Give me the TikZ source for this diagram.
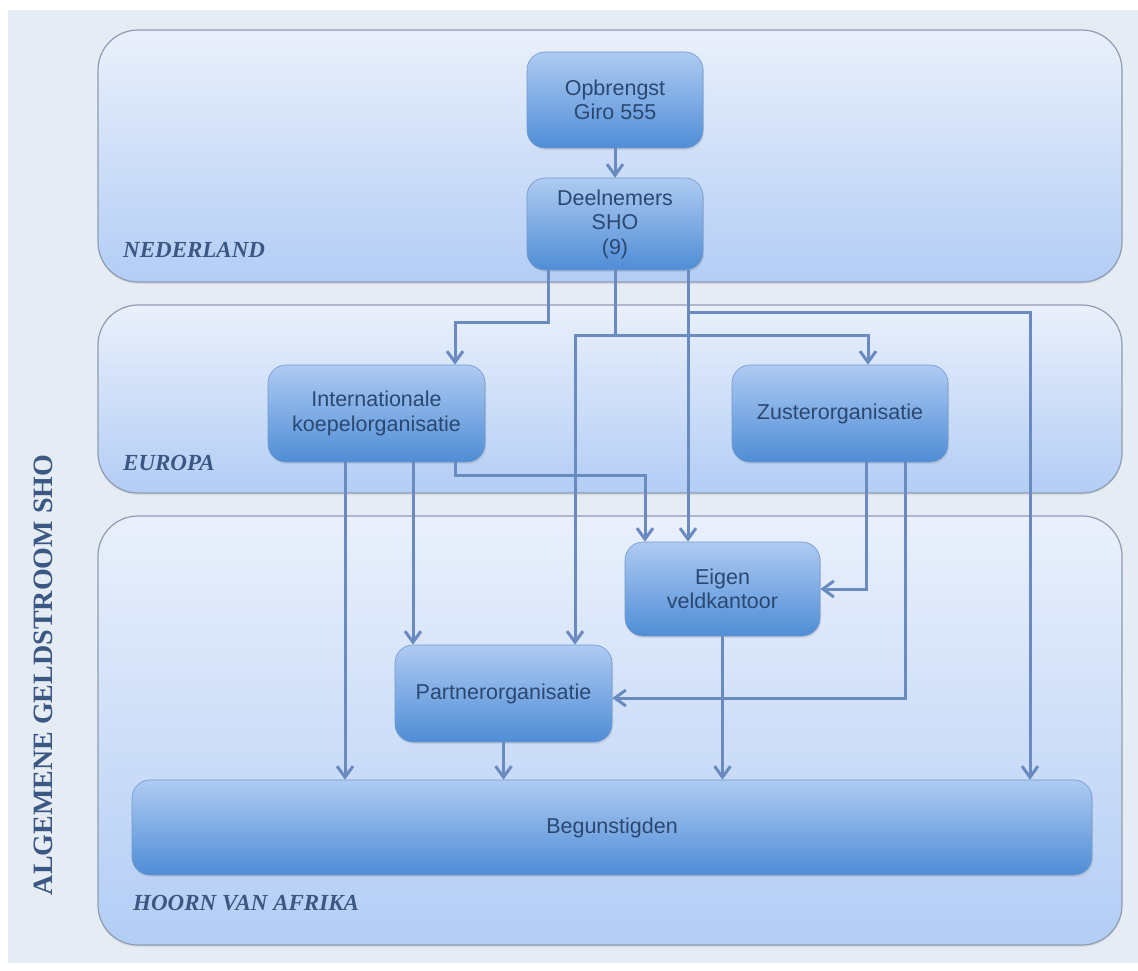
\documentclass[tikz,border=0pt]{standalone}
\usepackage{fontspec}
\setmainfont{Liberation Serif}
\setsansfont{Liberation Sans}
\usetikzlibrary{arrows.meta,positioning,shadows}

\definecolor{pagebg}{HTML}{E6ECF3}
\definecolor{regiontop}{HTML}{EAF0FB}
\definecolor{regionbot}{HTML}{B3CDF5}
\definecolor{regionline}{HTML}{8E9CB3}
\definecolor{boxtop}{HTML}{AECBF2}
\definecolor{boxbot}{HTML}{4F8DD6}
\definecolor{boxline}{HTML}{7199CC}
\definecolor{boxtext}{HTML}{2B4872}
\definecolor{flowline}{HTML}{6A8BC0}
\definecolor{labeltext}{HTML}{3B5783}

\begin{document}
\begin{tikzpicture}[
    x=1pt, y=-1pt,
    region/.style={rectangle, draw=regionline, line width=1.2pt, rounded corners=40pt,
        top color=regiontop, bottom color=regionbot,
        drop shadow={opacity=0.15, shadow xshift=0pt, shadow yshift=-2pt}},
    box/.style={rectangle, draw=boxline, line width=0.6pt, rounded corners=18pt,
        top color=boxtop, bottom color=boxbot, align=center, inner sep=0pt,
        text=boxtext, font=\sffamily\fontsize{21.5}{24.5}\selectfont,
        drop shadow={opacity=0.2, shadow xshift=1pt, shadow yshift=-2pt}},
    flow/.style={draw=flowline, line width=3pt,
        -{Straight Barb[length=11pt,width=16pt]}},
    regionlabel/.style={anchor=west, inner sep=0pt, text=labeltext,
        font=\fontsize{23}{26}\selectfont\bfseries\itshape},
    title/.style={inner sep=0pt, text=labeltext, font=\fontsize{28}{32}\selectfont\bfseries}
]

\useasboundingbox (0,0) rectangle (1138,970);
\fill[pagebg] (8,10) rectangle (1138,963);

% Regions
\node[region, minimum width=1024pt, minimum height=252pt] (nederland) at (610,156) {};
\node[region, minimum width=1024pt, minimum height=188pt] (europa) at (610,399) {};
\node[region, minimum width=1024pt, minimum height=429pt] (afrika) at (610,730.5) {};

\node[regionlabel] (nedlabel) at (123,250) {NEDERLAND};
\node[regionlabel] (eurlabel) at (123,463) {EUROPA};
\node[regionlabel] (afrlabel) at (133,903) {HOORN VAN AFRIKA};
\node[title, rotate=90] (geldstroom) at (43,675) {ALGEMENE GELDSTROOM SHO};

% Organisaties
\node[box, minimum width=176pt, minimum height=96pt] (giro) at (615,100) {Opbrengst\\Giro 555};
\node[box, minimum width=176pt, minimum height=92pt] (deelnemers) at (615,224) {Deelnemers\\SHO\\(9)};
\node[box, minimum width=217pt, minimum height=97pt] (koepel) at (376.5,413.5) {Internationale\\koepelorganisatie};
\node[box, minimum width=216pt, minimum height=97pt] (zuster) at (840,413.5) {Zusterorganisatie};
\node[box, minimum width=195pt, minimum height=94pt] (veld) at (722.5,589) {Eigen\\veldkantoor};
\node[box, minimum width=217pt, minimum height=97pt] (partner) at (503.5,693.5) {Partnerorganisatie};
\node[box, minimum width=960pt, minimum height=95pt] (begunstigden) at (612,827.5) {Begunstigden};

% Geldstromen
\draw[flow] (giro) -- (deelnemers);

\draw[flow] ([xshift=-67pt]deelnemers.south) -- ++(0,52) -| ([xshift=78.5pt]koepel.north);
\draw[flow] (deelnemers.south) -- ++(0,65) -| ([xshift=28pt]zuster.north);
\draw[flow] (deelnemers.south) ++(0,65) -| ([xshift=71.5pt]partner.north);
\draw[flow] ([xshift=73pt]deelnemers.south) -- ([xshift=-34.5pt]veld.north);
\draw[flow] ([xshift=73pt]deelnemers.south) -- ++(0,42) -| ([xshift=418pt]begunstigden.north);

\draw[flow] ([xshift=-31.5pt]koepel.south) -- ([xshift=-31.5pt]koepel.south |- begunstigden.north);
\draw[flow] ([xshift=36.5pt]koepel.south) -- ([xshift=36.5pt]koepel.south |- partner.north);
\draw[flow] ([xshift=78.5pt]koepel.south) -- ++(0,13) -| ([xshift=-77.5pt]veld.north);

\draw[flow] ([xshift=26pt]zuster.south) |- (veld.east);
\draw[flow] ([xshift=65pt]zuster.south) |- ([yshift=-4.5pt]partner.east);

\draw[flow] (partner.south) -- (partner.south |- begunstigden.north);
\draw[flow] (veld.south) -- (veld.south |- begunstigden.north);

\end{tikzpicture}
\end{document}
